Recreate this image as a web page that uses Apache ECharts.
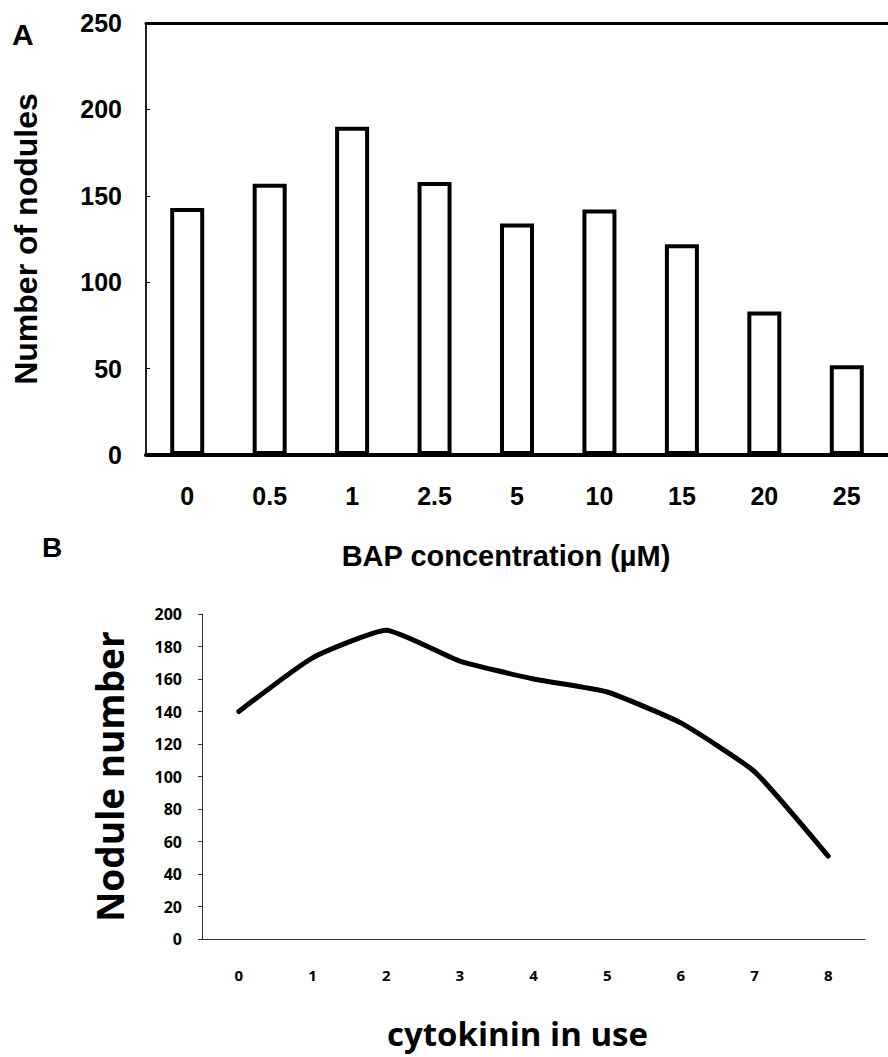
<!DOCTYPE html>
<html>
<head>
<meta charset="utf-8">
<script src="https://cdn.jsdelivr.net/npm/echarts@6/dist/echarts.min.js"></script>
<style>
html, body { margin: 0; padding: 0; background: #fff; }
#main { width: 888px; height: 1057px; }
</style>
</head>
<body>
<div id="main"></div>
<script>
// panel A: bar chart
var bapLabels = ['0', '0.5', '1', '2.5', '5', '10', '15', '20', '25'];
var noduleCounts = [143, 157, 190, 158, 134, 142, 122, 83, 52];

// panel B: line chart
var cytoLabels = ['0', '1', '2', '3', '4', '5', '6', '7', '8'];
var noduleNumber = [140, 173, 190, 171, 160, 152, 133, 103, 51];

var fontA = '"Liberation Sans", Arial, sans-serif';
var fontB = '"Open Sans", Lato, sans-serif';

var myChart = echarts.init(document.getElementById('main'), null, { renderer: 'svg' });
var option = {
	backgroundColor: '#fff',
	animation: false,
	grid: [
		{ left: 146, top: 23, width: 751, height: 432 },
		{ left: 202, top: 614, right: 23, height: 325 }
	],
	graphic: [
		{ type: 'text', left: 12, top: 19, style: { text: 'A', font: 'bold 30px ' + fontA, fill: '#000' } },
		{ type: 'text', left: 42, top: 533, style: { text: 'B', font: 'bold 28px ' + fontA, fill: '#000' } }
	],
	xAxis: [{
		type: 'category',
		gridIndex: 0,
		data: bapLabels,
		name: 'BAP concentration (µM)',
		nameLocation: 'middle',
		nameGap: 86,
		nameTextStyle: { color: '#000', fontFamily: fontA, fontWeight: 'bold', fontSize: 29, padding: [0, 22, 0, 0] },
		axisLine: { lineStyle: { color: '#000', width: 4 } },
		axisTick: { inside: true, length: 5, lineStyle: { color: '#000', width: 1 } },
		axisLabel: { color: '#000', fontFamily: fontA, fontWeight: 'bold', fontSize: 25, margin: 28 }
	}, {
		type: 'category',
		gridIndex: 0,
		position: 'top',
		data: bapLabels,
		axisLine: { lineStyle: { color: '#000', width: 3 } },
		axisTick: { show: false },
		axisLabel: { show: false }
	}, {
		type: 'category',
		gridIndex: 1,
		data: cytoLabels,
		name: 'cytokinin in use',
		nameLocation: 'middle',
		nameGap: 78,
		nameTextStyle: { color: '#000', fontFamily: fontB, fontWeight: 'bold', fontSize: 33, padding: [0, 32, 0, 0] },
		axisLine: { lineStyle: { color: '#333', width: 1 } },
		axisTick: { length: 4, lineStyle: { color: '#333', width: 1 } },
		axisLabel: { color: '#000', fontFamily: fontB, fontWeight: 'bold', fontSize: 15, margin: 28 }
	}],
	yAxis: [{
		type: 'value',
		gridIndex: 0,
		min: 0,
		max: 250,
		interval: 50,
		name: 'Number of nodules',
		nameLocation: 'middle',
		nameRotate: 90,
		nameGap: 104,
		nameTextStyle: { color: '#000', fontFamily: fontA, fontWeight: 'bold', fontSize: 32 },
		axisLine: { show: true, lineStyle: { color: '#222', width: 2 } },
		axisTick: { show: true, inside: true, length: 4, lineStyle: { color: '#000' } },
		splitLine: { show: false },
		axisLabel: { color: '#000', fontFamily: fontA, fontWeight: 'bold', fontSize: 25, margin: 24 }
	}, {
		type: 'value',
		gridIndex: 1,
		min: 0,
		max: 200,
		interval: 20,
		name: 'Nodule number',
		nameLocation: 'middle',
		nameRotate: 90,
		nameGap: 74,
		nameTextStyle: { color: '#000', fontFamily: fontB, fontWeight: 'bold', fontSize: 37 },
		axisLine: { show: true, lineStyle: { color: '#333', width: 1 } },
		axisTick: { show: true, length: 4, lineStyle: { color: '#333' } },
		splitLine: { show: false },
		axisLabel: { color: '#000', fontFamily: fontB, fontWeight: 'bold', fontSize: 16, margin: 20 }
	}],
	series: [{
		name: 'Number of nodules',
		type: 'bar',
		xAxisIndex: 0,
		yAxisIndex: 0,
		barWidth: 34,
		itemStyle: { color: '#fff', borderColor: '#000', borderWidth: 4 },
		data: noduleCounts
	}, {
		name: 'Nodule number',
		type: 'line',
		xAxisIndex: 2,
		yAxisIndex: 1,
		smooth: 0.15,
		showSymbol: false,
		lineStyle: { color: '#000', width: 5, cap: 'round' },
		data: noduleNumber
	}]
};
myChart.setOption(option);
</script>
</body>
</html>
